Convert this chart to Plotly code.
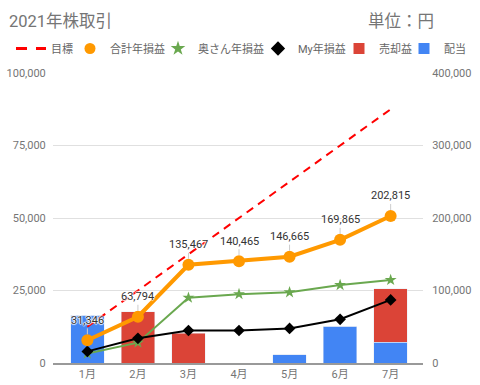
import plotly.graph_objects as go

months = ["1月", "2月", "3月", "4月", "5月", "6月", "7月"]
target = [50000, 100000, 150000, 200000, 250000, 300000, 350000]
total = [31346, 63794, 135467, 140465, 146665, 169865, 202815]
wife = [13000, 28000, 90000, 95000, 97500, 107500, 114500]
mine = [16000, 34000, 44800, 44800, 47700, 60300, 87000]
sale_gain = [0, 17700, 10200, 0, 0, 0, 18500]
dividend = [16500, 0, 0, 0, 2800, 12600, 7100]

left_ticks = [0, 25000, 50000, 75000, 100000]
right_ticks = [0, 100000, 200000, 300000, 400000]

FONT = "Roboto, 'Noto Sans CJK JP', sans-serif"
BLUE = "#4285F4"
RED = "#DB4437"
ORANGE = "#FF9900"
GREEN = "#6AA84F"
BLACK = "#000000"
TARGET = "#FF0000"

ML, MR, MT, MB = 53, 57, 73, 22
W, H = 480, 385
PW, PH = W - ML - MR, H - MT - MB

fig = go.Figure()

# bars (left axis)
fig.add_trace(go.Bar(x=months, y=dividend, marker_color=BLUE, width=0.66,
                     showlegend=False, yaxis="y"))
fig.add_trace(go.Bar(x=months, y=sale_gain, marker_color=RED, width=0.66,
                     showlegend=False, yaxis="y"))

# lines (right axis)
fig.add_trace(go.Scatter(x=months, y=target, mode="lines", yaxis="y2",
                         line=dict(color=TARGET, width=2, dash="8px,6px"),
                         showlegend=False))
fig.add_trace(go.Scatter(x=months, y=wife, mode="lines+markers", yaxis="y2",
                         line=dict(color=GREEN, width=2),
                         marker=dict(symbol="star", size=9, color=GREEN),
                         showlegend=False))
fig.add_trace(go.Scatter(x=months, y=mine, mode="lines+markers", yaxis="y2",
                         line=dict(color=BLACK, width=2),
                         marker=dict(symbol="diamond", size=9, color=BLACK),
                         showlegend=False))
fig.add_trace(go.Scatter(x=months, y=total, mode="lines+markers", yaxis="y2",
                         line=dict(color=ORANGE, width=4),
                         marker=dict(symbol="circle", size=12, color=ORANGE),
                         showlegend=False))

# legend-only entries, each in its own legend
legend_items = [
    ("目標", dict(mode="lines", line=dict(color=TARGET, width=3, dash="11px,9px")), 11),
    ("合計年損益", dict(mode="markers", marker=dict(symbol="circle", size=11, color=ORANGE)), 70),
    ("奥さん年損益", dict(mode="markers", marker=dict(symbol="star", size=11, color=GREEN)), 158),
    ("My年損益", dict(mode="markers", marker=dict(symbol="diamond", size=11, color=BLACK)), 258),
    ("売却益", dict(mode="markers", marker=dict(symbol="square", size=11, color=RED)), 339),
    ("配当", dict(mode="markers", marker=dict(symbol="square", size=11, color=BLUE)), 404),
]
legend_layout = {}
for i, (name, style, px) in enumerate(legend_items):
    key = "legend" if i == 0 else f"legend{i+1}"
    fig.add_trace(go.Scatter(x=[None], y=[None], name=name, legend=key,
                             showlegend=True, yaxis="y2", **style))
    legend_layout[key] = dict(
        xref="paper", yref="paper", x=(px - ML) / PW, y=(H - MB - 48.5) / PH,
        xanchor="left", yanchor="middle", orientation="h",
        font=dict(family=FONT, size=11, color="#666666"),
        bgcolor="rgba(0,0,0,0)", borderwidth=0, itemwidth=30,
    )

annotations = []
for m, v in zip(months, total):
    annotations.append(dict(
        x=m, y=v, xref="x", yref="y2", text=f"{v:,}",
        showarrow=True, arrowhead=0, ax=0, ay=-20, arrowcolor="#cccccc",
        arrowwidth=1, standoff=6,
        font=dict(family=FONT, size=11, color="#333333",
                  shadow="1px 0 1px #fff, -1px 0 1px #fff, 0 1px 1px #fff, 0 -1px 1px #fff"),
    ))
annotations.append(dict(
    xref="paper", yref="paper", x=(366 - ML) / PW, y=(H - MB - 21) / PH,
    xanchor="left", yanchor="middle", showarrow=False, text="単位：円",
    font=dict(family=FONT, size=16.5, color="#757575"),
))

fig.update_layout(
    width=W, height=H,
    margin=dict(l=ML, r=MR, t=MT, b=MB, autoexpand=False),
    paper_bgcolor="white", plot_bgcolor="white",
    barmode="stack", bargap=0.34,
    font=dict(family=FONT, size=11, color="#757575"),
    title=dict(text="2021年株取引", xref="container", yref="container",
               x=9 / W, y=1 - 21 / H, xanchor="left", yanchor="middle",
               font=dict(family=FONT, size=16.5, color="#757575")),
    xaxis=dict(type="category", range=[-0.68, 6.64], showgrid=False,
               showline=True, linecolor="#999999", linewidth=2,
               tickfont=dict(family=FONT, size=11, color="#757575"),
               ticks="", fixedrange=True, automargin=False),
    yaxis=dict(range=[0, 100000], tickvals=left_ticks, tickformat=",",
               showgrid=True, gridcolor="#e0e0e0", gridwidth=1,
               zeroline=False, ticks="outside", ticklen=4, tickcolor="rgba(0,0,0,0)",
               tickfont=dict(family=FONT, size=11, color="#757575"), automargin=False),
    yaxis2=dict(range=[0, 400000], tickvals=right_ticks, tickformat=",",
                overlaying="y", side="right", showgrid=False, zeroline=False,
                ticks="outside", ticklen=6, tickcolor="rgba(0,0,0,0)",
                tickfont=dict(family=FONT, size=11, color="#757575"), automargin=False),
    annotations=annotations,
    **legend_layout,
)

fig.write_html("out.html", config={"displayModeBar": False},
               post_script="document.body.style.margin='0';document.body.style.overflow='hidden';")
